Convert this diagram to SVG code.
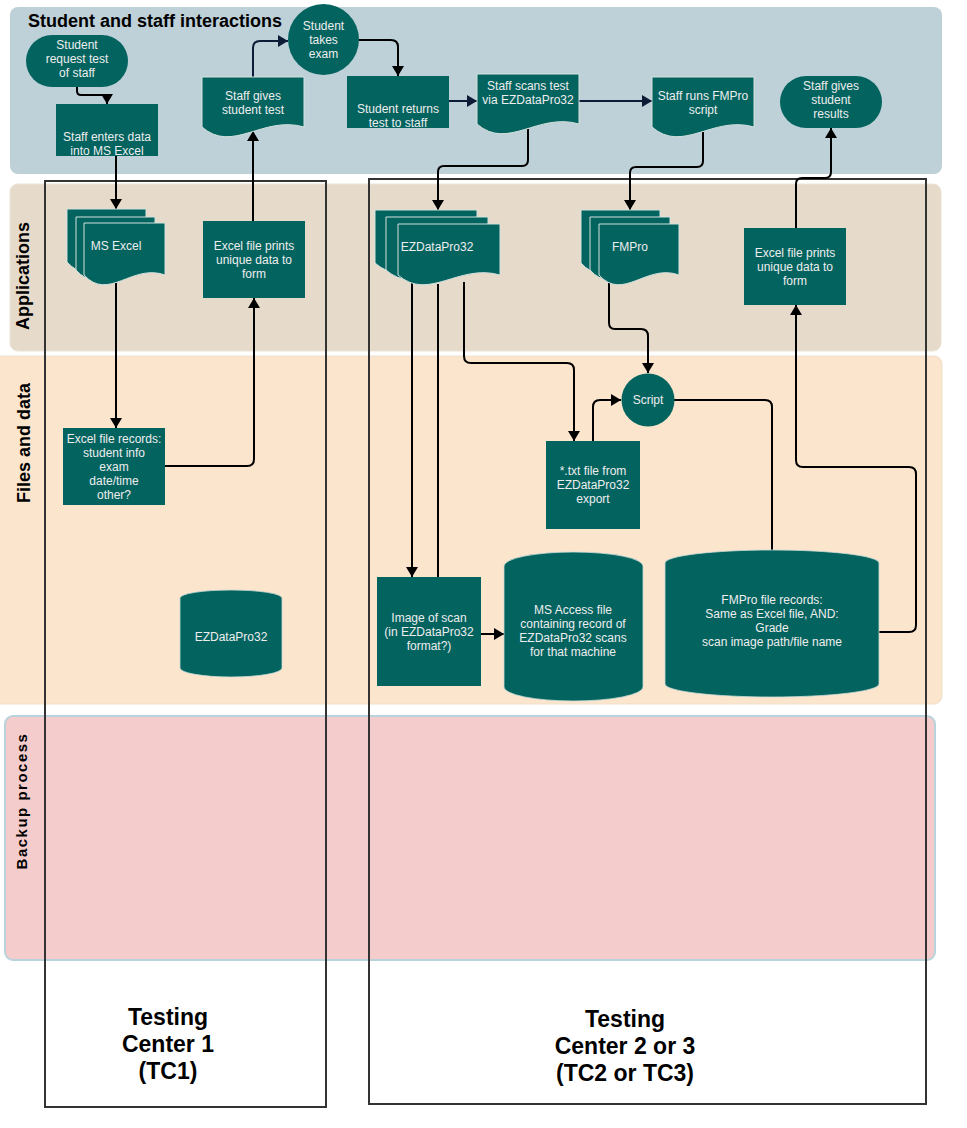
<svg xmlns="http://www.w3.org/2000/svg" width="967" height="1128" viewBox="0 0 967 1128">
<defs>
<style>
.lane-title{font-family:"Liberation Sans",Arial,sans-serif;font-weight:bold;fill:#000}
.node{fill:#03635f}
.doc{fill:#03635f;stroke:#d5e2de;stroke-width:1}
.cyl{fill:#03635f;stroke:#c9dcd8;stroke-width:0.8}
.t{font-family:"Liberation Sans",Arial,sans-serif;font-size:12px;fill:#eeeeee;text-anchor:middle}
.c{fill:none;stroke:#000;stroke-width:2;stroke-linejoin:round}
.cn{fill:none;stroke:#0e1b36;stroke-width:2;stroke-linejoin:round}
.tc{fill:none;stroke:#333;stroke-width:2}
.tct{font-family:"Liberation Sans",Arial,sans-serif;font-size:23px;font-weight:bold;fill:#000;text-anchor:middle}
</style>
<marker id="ab" viewBox="0 0 10 12" refX="10" refY="6" markerWidth="10" markerHeight="12" markerUnits="userSpaceOnUse" orient="auto"><path d="M0,0 L10,6 L0,12 Z" fill="#000"/></marker>
<marker id="an" viewBox="0 0 10 12" refX="10" refY="6" markerWidth="10" markerHeight="12" markerUnits="userSpaceOnUse" orient="auto"><path d="M0,0 L10,6 L0,12 Z" fill="#0e1b36"/></marker>
</defs>

<g id="lanes">
<rect x="10" y="7" width="932" height="167" rx="8" fill="#bfd1d8"/>
<rect x="10" y="184" width="931" height="167" rx="8" fill="#e6dbca" stroke="#ebe3d6" stroke-width="1"/>
<rect x="-8" y="356" width="950" height="348" rx="8" fill="#fce5cd" stroke="#efe0cc" stroke-width="1"/>
<rect x="5" y="716" width="930" height="244" rx="8" fill="#f4cccc" stroke="#b9d3dc" stroke-width="2"/>
<text class="lane-title" x="28" y="27" font-size="18">Student and staff interactions</text>
<text class="lane-title" x="29" y="276" font-size="18" text-anchor="middle" transform="rotate(-90 29 276)">Applications</text>
<text class="lane-title" x="30" y="443" font-size="18" text-anchor="middle" transform="rotate(-90 30 443)">Files and data</text>
<text class="lane-title" x="27" y="801" font-size="15" letter-spacing="1.5" text-anchor="middle" transform="rotate(-90 27 801)">Backup process</text>
</g>

<g id="testing-centers">
<rect class="tc" x="45" y="181" width="281" height="926"/>
<rect class="tc" x="369" y="179" width="557" height="925"/>
<text class="tct" x="168" y="1025">Testing</text>
<text class="tct" x="168" y="1052">Center 1</text>
<text class="tct" x="168" y="1079">(TC1)</text>
<text class="tct" x="625" y="1027">Testing</text>
<text class="tct" x="625" y="1054">Center 2 or 3</text>
<text class="tct" x="625" y="1081">(TC2 or TC3)</text>
</g>

<g id="connectors">
<path class="c" d="M77,87 V91 Q77,95 81,95 H103 Q107,95 107,99 V104" marker-end="url(#ab)"/>
<path class="cn" d="M253,77 V48 Q253,41 260,41 H288" marker-end="url(#an)"/>
<path class="c" d="M359,40 H391 Q398,40 398,47 V76" marker-end="url(#ab)"/>
<path class="cn" d="M449,101 H477" marker-end="url(#an)"/>
<path class="cn" d="M579,101 H652" marker-end="url(#an)"/>
<path class="c" d="M253,221 V131" marker-end="url(#ab)"/>
<path class="c" d="M116,156 V209" marker-end="url(#ab)"/>
<path class="c" d="M116,283 V428" marker-end="url(#ab)"/>
<path class="c" d="M165,466 H247 Q254,466 254,459 V298" marker-end="url(#ab)"/>
<path class="c" d="M528,129 V160 Q528,166 522,166 H444 Q438,166 438,172 V210" marker-end="url(#ab)"/>
<path class="c" d="M703,132 V161 Q703,167 697,167 H636 Q630,167 630,173 V210" marker-end="url(#ab)"/>
<path class="c" d="M796,228 V184 Q796,178 802,178 H825 Q831,178 831,172 V128" marker-end="url(#ab)"/>
<path class="c" d="M412,281 V577" marker-end="url(#ab)"/>
<path class="c" d="M438,284 V577"/>
<path class="c" d="M464,282 V356 Q464,363 471,363 H567 Q574,363 574,370 V441" marker-end="url(#ab)"/>
<path class="c" d="M609,283 V323 Q609,329 615,329 H641 Q648,329 648,336 V373" marker-end="url(#ab)"/>
<path class="c" d="M593,441 V407 Q593,400 600,400 H621" marker-end="url(#ab)"/>
<path class="c" d="M674,400 H765 Q772,400 772,407 V550"/>
<path class="c" d="M481,634 H504" marker-end="url(#ab)"/>
<path class="c" d="M879,632 H909 Q916,632 916,625 V474 Q916,467 909,467 H803 Q796,467 796,460 V305" marker-end="url(#ab)"/>
</g>

<g id="n-student-request">
<rect class="node" x="26" y="35" width="102" height="52" rx="26"/>
<text class="t" x="77" y="48.5">Student</text>
<text class="t" x="77" y="62.5">request test</text>
<text class="t" x="77" y="76.5">of staff</text>
</g>
<g id="n-staff-enters">
<rect class="node" x="56" y="104" width="102" height="52"/>
<text class="t" x="107" y="141">Staff enters data</text>
<text class="t" x="107" y="155">into MS Excel</text>
</g>
<g id="n-staff-gives-test">
<path class="doc" d="M202,77 H304 V127 C263.2,115 232.6,154 202,127 Z"/>
<text class="t" x="253" y="100">Staff gives</text>
<text class="t" x="253" y="114">student test</text>
</g>
<g id="n-student-takes">
<circle class="node" cx="323.5" cy="39.5" r="35.5"/>
<text class="t" x="323.5" y="30">Student</text>
<text class="t" x="323.5" y="44">takes</text>
<text class="t" x="323.5" y="58">exam</text>
</g>
<g id="n-student-returns">
<rect class="node" x="347" y="76" width="102" height="52"/>
<text class="t" x="398" y="113">Student returns</text>
<text class="t" x="398" y="127">test to staff</text>
</g>
<g id="n-staff-scans">
<path class="doc" d="M477,74 H579 V124 C538.2,112 507.6,151 477,124 Z"/>
<text class="t" x="528" y="90">Staff scans test</text>
<text class="t" x="528" y="104">via EZDataPro32</text>
</g>
<g id="n-staff-runs">
<path class="doc" d="M652,77 H754 V127 C713.2,115 682.6,154 652,127 Z"/>
<text class="t" x="703" y="100">Staff runs FMPro</text>
<text class="t" x="703" y="114">script</text>
</g>
<g id="n-staff-results">
<rect class="node" x="780" y="76" width="102" height="52" rx="26"/>
<text class="t" x="831" y="90">Staff gives</text>
<text class="t" x="831" y="104">student</text>
<text class="t" x="831" y="118">results</text>
</g>

<g id="n-ms-excel">
<path class="doc" d="M67,209 H146 V262 C114.4,250 90.7,289 67,262 Z"/>
<path class="doc" d="M76,217 H155 V270 C123.4,258 99.7,297 76,270 Z"/>
<path class="doc" d="M84,223 H165 V275 C132.6,263 108.3,302 84,275 Z"/>
<text class="t" x="116" y="250">MS Excel</text>
</g>
<g id="n-excel-prints-1">
<rect class="node" x="203" y="221" width="102" height="77"/>
<text class="t" x="254" y="250">Excel file prints</text>
<text class="t" x="254" y="264">unique data to</text>
<text class="t" x="254" y="278">form</text>
</g>
<g id="n-ezdatapro-app">
<path class="doc" d="M375,210 H477 V263 C436.2,251 405.6,290 375,263 Z"/>
<path class="doc" d="M386,217 H488 V270 C447.2,258 416.6,297 386,270 Z"/>
<path class="doc" d="M398,224 H500 V275 C459.2,263 428.6,302 398,275 Z"/>
<text class="t" x="437" y="251">EZDataPro32</text>
</g>
<g id="n-fmpro-app">
<path class="doc" d="M581,210 H660 V263 C628.4,251 604.7,290 581,263 Z"/>
<path class="doc" d="M590,217 H670 V270 C638,258 614,297 590,270 Z"/>
<path class="doc" d="M599,224 H679 V275 C647,263 623,302 599,275 Z"/>
<text class="t" x="630" y="251">FMPro</text>
</g>
<g id="n-excel-prints-2">
<rect class="node" x="744" y="228" width="102" height="77"/>
<text class="t" x="795" y="257">Excel file prints</text>
<text class="t" x="795" y="271">unique data to</text>
<text class="t" x="795" y="285">form</text>
</g>

<g id="n-excel-records">
<rect class="node" x="63" y="428" width="102" height="77"/>
<text class="t" x="114" y="443">Excel file records:</text>
<text class="t" x="114" y="457">student info</text>
<text class="t" x="114" y="471">exam</text>
<text class="t" x="114" y="485">date/time</text>
<text class="t" x="114" y="499">other?</text>
</g>
<g id="n-ezdatapro-db">
<path class="cyl" d="M180,598 A51,8 0 0 1 282,598 V668 A51,9 0 0 1 180,668 Z"/>
<text class="t" x="231" y="641">EZDataPro32</text>
</g>
<g id="n-script">
<circle class="node" cx="648" cy="400" r="26.5"/>
<text class="t" x="648" y="404">Script</text>
</g>
<g id="n-txt-file">
<rect class="node" x="546" y="441" width="94" height="88"/>
<text class="t" x="593" y="475">*.txt file from</text>
<text class="t" x="593" y="489">EZDataPro32</text>
<text class="t" x="593" y="503">export</text>
</g>
<g id="n-image-scan">
<rect class="node" x="377" y="577" width="104" height="109"/>
<text class="t" x="429" y="622">Image of scan</text>
<text class="t" x="429" y="636">(in EZDataPro32</text>
<text class="t" x="429" y="650">format?)</text>
</g>
<g id="n-ms-access">
<path class="cyl" d="M504,566 A69.5,14 0 0 1 643,566 V687 A69.5,14 0 0 1 504,687 Z"/>
<text class="t" x="573" y="614">MS Access file</text>
<text class="t" x="573" y="628">containing record of</text>
<text class="t" x="573" y="642">EZDataPro32 scans</text>
<text class="t" x="573" y="656">for that machine</text>
</g>
<g id="n-fmpro-records">
<path class="cyl" d="M665,563 A107,13 0 0 1 879,563 V684 A107,13 0 0 1 665,684 Z"/>
<text class="t" x="772" y="604">FMPro file records:</text>
<text class="t" x="772" y="618">Same as Excel file, AND:</text>
<text class="t" x="772" y="632">Grade</text>
<text class="t" x="772" y="646">scan image path/file name</text>
</g>
</svg>
